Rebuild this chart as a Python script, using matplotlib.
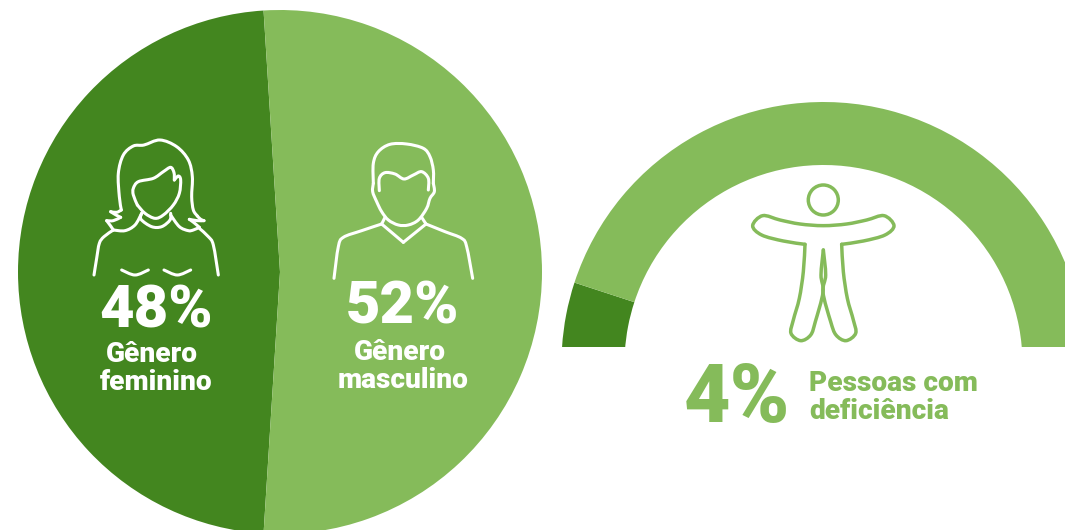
import matplotlib
matplotlib.use('Agg')
import matplotlib.pyplot as plt
from matplotlib.patches import Circle, PathPatch, Rectangle
from matplotlib.path import Path
import numpy as np

plt.rcParams['font.family'] = ['Roboto', 'DejaVu Sans']

W, H = 1065, 530
DARK, LIGHT = '#43861f', '#85bb5a'

gender_values = [48, 52]
gender_names = [['Gênero', 'feminino'], ['Gênero', 'masculino']]
disability_values = [4, 96]
disability_name = ['Pessoas com', 'deficiência']


def flip(y):
    return H - y


def smooth_path(pts):
    # catmull-rom through the points, written as cubic beziers
    pts = np.array(pts, dtype=float)
    p = np.vstack([pts[0], pts, pts[-1]])
    verts, codes = [pts[0]], [Path.MOVETO]
    for i in range(1, len(p) - 2):
        c1 = p[i] + (p[i+1] - p[i-1]) / 6
        c2 = p[i+1] - (p[i+2] - p[i]) / 6
        verts += [c1, c2, p[i+1]]
        codes += [Path.CURVE4] * 3
    return Path(verts, codes)


def draw_icon(ax, lines, ox, oy, color, lw):
    # icon outlines are traced on a 3x grid
    for line in lines:
        pts = [(ox + x / 3, flip(oy + y / 3)) for x, y in line]
        ax.add_patch(PathPatch(smooth_path(pts), fill=False, edgecolor=color, lw=lw,
                               capstyle='round', joinstyle='round', zorder=3))


woman = [
    [(42, 435), (50, 385), (58, 340), (72, 320), (100, 300)],
    [(100, 300), (135, 302), (165, 285), (185, 250)],
    [(100, 300), (92, 288), (80, 272)], [(80, 272), (100, 272), (122, 262)],
    [(122, 262), (108, 255), (92, 245)], [(92, 245), (110, 247), (124, 240)],
    [(124, 240), (118, 200), (115, 130), (130, 75), (160, 48), (192, 45), (240, 30), (290, 50),
     (325, 90), (337, 140), (335, 200), (340, 240), (352, 258)],
    [(352, 258), (362, 268), (372, 272)], [(372, 272), (352, 272), (328, 268)],
    [(328, 268), (342, 278), (358, 292)], [(358, 292), (340, 300), (325, 302), (298, 290), (272, 255)],
    [(358, 295), (385, 320), (400, 345), (415, 435)],
    [(185, 250), (183, 268), (215, 290), (245, 290), (270, 270), (272, 250)],
    [(172, 225), (160, 195), (160, 175), (175, 155), (220, 145), (250, 125), (272, 112), (282, 128),
     (283, 150)],
    [(283, 150), (295, 138), (302, 150), (298, 190), (280, 225), (250, 255), (225, 265), (195, 250),
     (172, 225)],
    [(125, 420), (165, 435), (205, 420)],
    [(252, 420), (292, 435), (332, 420)],
]
man = [
    [(160, 160), (160, 100), (175, 65), (210, 43), (260, 42), (310, 55), (330, 80), (340, 120), (340, 160)],
    [(178, 182), (178, 145), (195, 128), (225, 132), (252, 147), (280, 135), (305, 125), (325, 145), (325, 180)],
    [(160, 160), (158, 185), (170, 215), (185, 245), (205, 270), (235, 285), (265, 285), (295, 270),
     (320, 235), (330, 205), (343, 185), (340, 160)],
    [(195, 262), (185, 282)], [(185, 282), (250, 337)], [(250, 337), (318, 282)], [(318, 282), (305, 262)],
    [(42, 445), (55, 350), (70, 322), (125, 302), (185, 282)],
    [(318, 282), (375, 305), (425, 325), (440, 350), (458, 445)],
]
person = [
    # right leg, inner line runs from the crotch lens down to the foot
    [(250, 225), (257, 300), (249, 352), (272, 440), (288, 480), (318, 497), (347, 475), (340, 435),
     (322, 370), (310, 290), (305, 208)],
    # arms
    [(305, 208), (370, 198), (435, 180), (462, 152), (432, 122), (380, 135), (320, 147), (250, 152),
     (180, 147), (120, 135), (68, 122), (38, 152), (65, 180), (130, 198), (195, 208)],
    # left leg
    [(195, 208), (190, 290), (178, 370), (160, 435), (153, 475), (182, 497), (212, 480), (226, 440),
     (249, 352), (243, 300), (250, 225)],
]

fig = plt.figure(figsize=(W / 100, H / 100), dpi=100)
ax = fig.add_axes([0, 0, 1, 1])

# gender pie, dark wedge centred on the left side
ax.pie(gender_values, colors=[DARK, LIGHT], startangle=93.6, center=(280, flip(272)), radius=262)

# 4% ring is a full donut cut off at the baseline
ring, _ = ax.pie(disability_values, colors=[DARK, LIGHT], startangle=176.3, counterclock=False,
                 center=(823.5, flip(364)), radius=262, wedgeprops={'width': 63})
cut = Rectangle((540, flip(347)), 600, 400, transform=ax.transData)
for w in ring:
    w.set_clip_on(True)
    w.set_clip_path(cut)

ax.set_xlim(0, W)
ax.set_ylim(0, H)
ax.set_aspect('equal')
ax.axis('off')

draw_icon(ax, woman, 80, 130, 'white', 2.2)
draw_icon(ax, man, 320, 130, 'white', 2.2)
draw_icon(ax, person, 740, 175, LIGHT, 2.5)
ax.add_patch(Circle((823.3, flip(200)), 15, fill=False, edgecolor=LIGHT, lw=2.5))

big = dict(fontweight=900, ha='center', va='baseline', color='white', fontsize=43)
small = dict(fontweight=900, ha='center', va='baseline', color='white', fontsize=20.2)
ax.text(156, flip(328), f'{gender_values[0]}%', **big)
ax.text(403, flip(324), f'{gender_values[1]}%', **big)
ax.text(152, flip(362), gender_names[0][0], **small)
ax.text(156, flip(390), gender_names[0][1], **small)
ax.text(400, flip(360), gender_names[1][0], **small)
ax.text(403, flip(388), gender_names[1][1], **small)

ax.text(737, flip(422), f'{disability_values[0]}%', fontweight=900, ha='center', va='baseline',
        color=LIGHT, fontsize=58)
ax.text(809, flip(391), disability_name[0], fontweight=900, ha='left', va='baseline', color=LIGHT, fontsize=20.2)
ax.text(809, flip(419), disability_name[1], fontweight=900, ha='left', va='baseline', color=LIGHT, fontsize=20.2)

fig.savefig('out.png', dpi=100)
